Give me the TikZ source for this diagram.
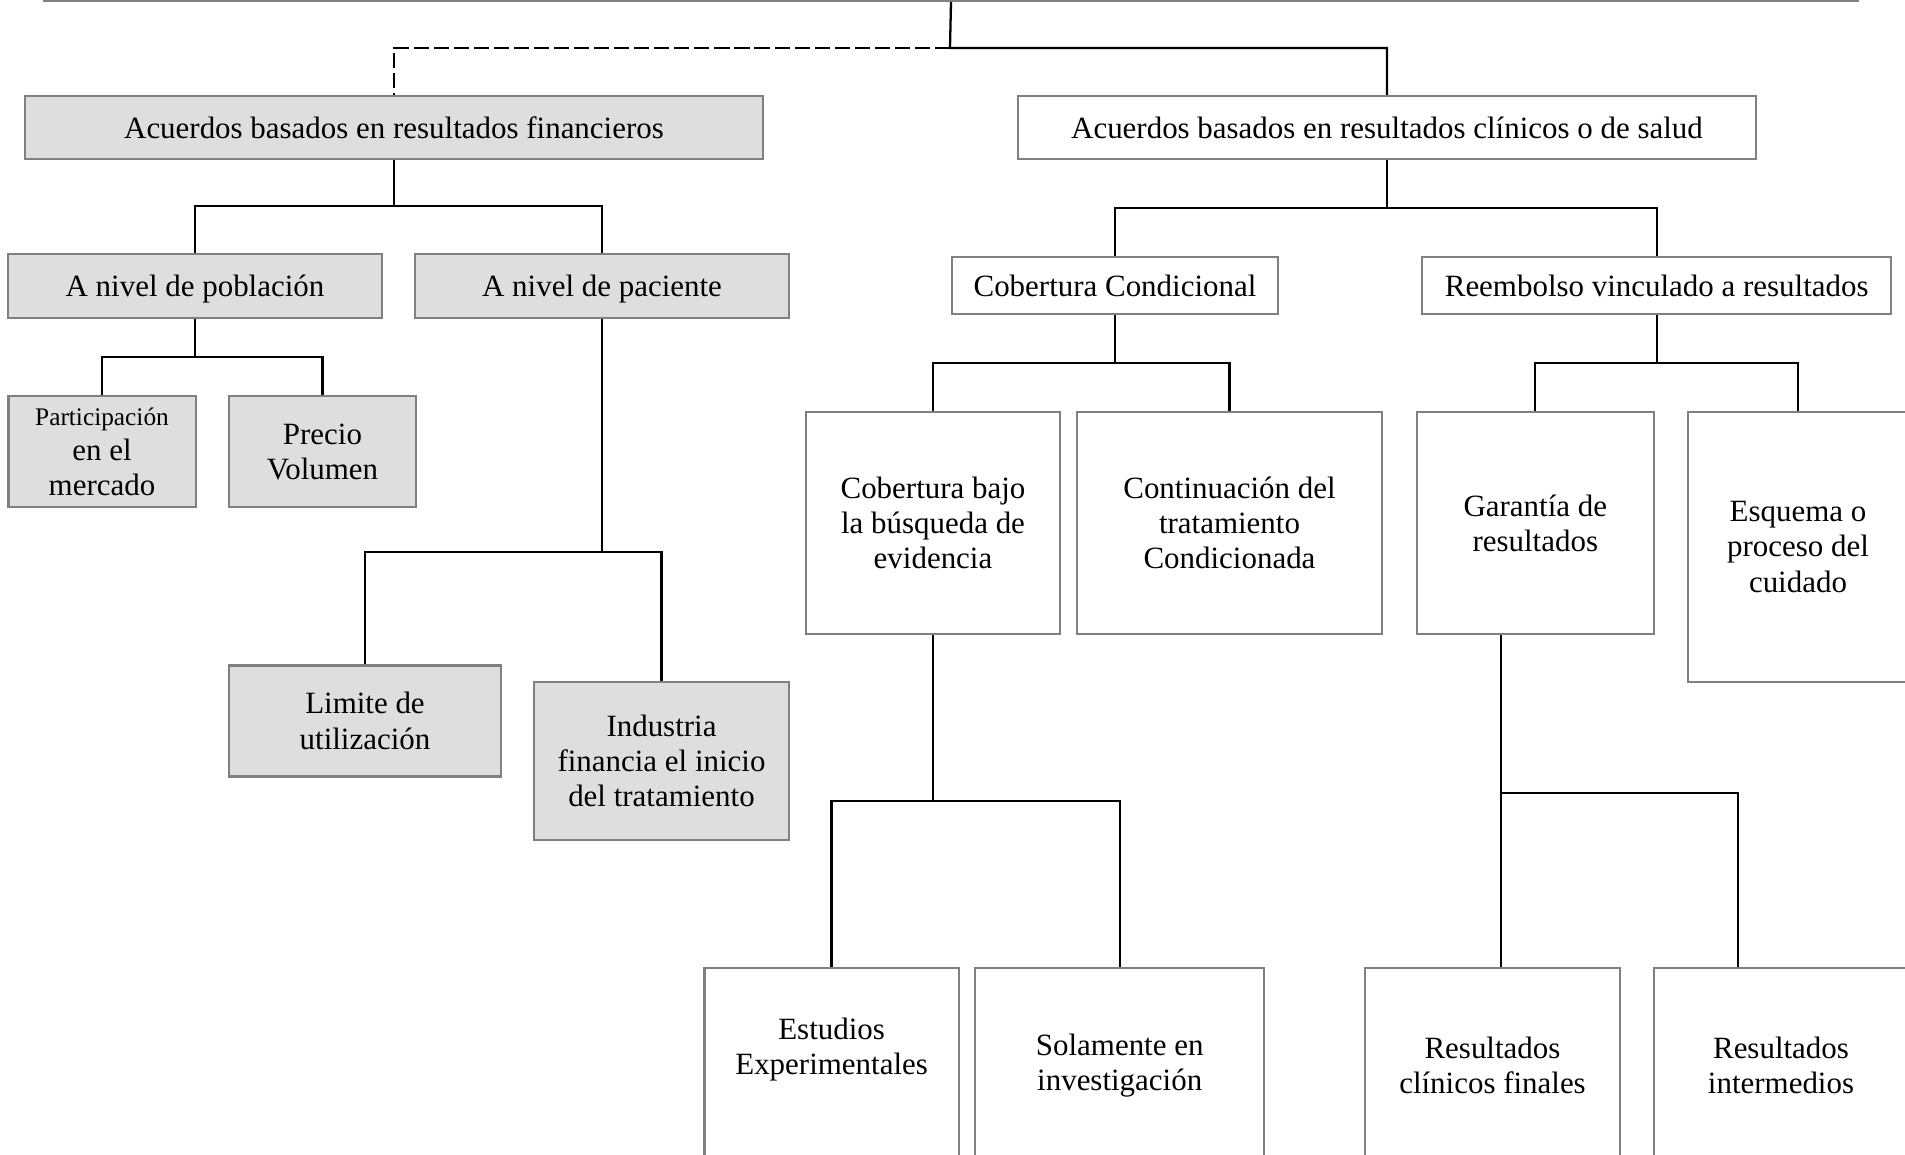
\documentclass[tikz,border=0pt]{standalone}
\usepackage{fontspec}
\setmainfont{Liberation Serif}
\newcommand{\orgfork}[4]{%
  \draw[conn] (#1.south) -- (#1.south |- 0,#2);
  \draw[conn] (#3.north) |- (#1.south |- 0,#2) -| (#4.north);}
\begin{document}
\begin{tikzpicture}[x=0.01cm,y=-0.01cm,font=\fontsize{8.8}{10}\selectfont]
  \tikzstyle{box}=[draw=black!50,line width=0.6pt,inner sep=0pt,align=center]
  \tikzstyle{grey box}=[box,fill=black!13]
  \tikzstyle{one line}=[text depth=0pt]
  \tikzstyle{txt}=[inner sep=0pt,align=center]
  \tikzstyle{conn}=[line width=0.65pt]
  \useasboundingbox (0,0) rectangle (1905,1155);
  \clip (0,0) rectangle (1905,1155);
  \node[box,minimum width=18.12cm,minimum height=0.6cm] (root) at (951,-29) {};
  \node[grey box,one line,minimum width=7.38cm,minimum height=0.63cm] (fin) at (394,127.5) {Acuerdos basados en resultados financieros};
  \node[box,one line,minimum width=7.38cm,minimum height=0.63cm] (clin) at (1387,127.5) {Acuerdos basados en resultados clínicos o de salud};
  \node[grey box,one line,minimum width=3.74cm,minimum height=0.635cm] (pob) at (195,286) {A nivel de población};
  \node[grey box,one line,minimum width=3.735cm,minimum height=0.635cm] (pac) at (602,286) {A nivel de paciente};
  \node[grey box,minimum width=1.87cm,minimum height=1.11cm] (part) at (102,451.6) {{\fontsize{7.2}{8.6}\selectfont Participación}\\en el\\mercado};
  \node[grey box,minimum width=1.87cm,minimum height=1.11cm] (prec) at (322.5,451.6) {Precio\\Volumen};
  \node[grey box,minimum width=2.72cm,minimum height=1.11cm] (lim) at (365,721) {Limite de\\utilización};
  \node[grey box,minimum width=2.55cm,minimum height=1.58cm] (ind) at (661.5,761) {Industria\\financia el inicio\\del tratamiento};
  \node[box,one line,minimum width=3.26cm,minimum height=0.57cm] (cobcond) at (1115,285.5) {Cobertura Condicional};
  \node[box,one line,minimum width=4.69cm,minimum height=0.57cm] (reem) at (1656.7,285.5) {Reembolso vinculado a resultados};
  \node[box,minimum width=2.54cm,minimum height=2.22cm] (cobbajo) at (933,523) {Cobertura bajo\\la búsqueda de\\evidencia};
  \node[box,minimum width=3.05cm,minimum height=2.22cm] (cont) at (1229.5,523) {Continuación del\\tratamiento\\Condicionada};
  \node[box,minimum width=2.37cm,minimum height=2.22cm] (gar) at (1535.3,523) {Garantía de\\resultados};
  \node[box,minimum width=2.2cm,minimum height=2.7cm] (esq) at (1798,547) {Esquema o\\proceso del\\cuidado};
  \node[box,minimum width=2.54cm,minimum height=2.5cm] (est) at (831.6,1093) {};
  \node[box,minimum width=2.89cm,minimum height=2.5cm] (sol) at (1119.7,1093) {};
  \node[box,minimum width=2.55cm,minimum height=2.5cm] (resfin) at (1492.5,1093) {};
  \node[box,minimum width=2.54cm,minimum height=2.5cm] (resint) at (1781,1093) {};
  \node[txt] (est-t) at (831.6,1049.5) {Estudios\\Experimentales};
  \node[txt] (sol-t) at (1119.7,1066) {Solamente en\\investigación};
  \node[txt] (resfin-t) at (1492.5,1065) {Resultados\\clínicos finales};
  \node[txt] (resint-t) at (1781,1065) {Resultados\\intermedios};
  \coordinate (top-j) at (950,48);
  \draw[conn] (root.south) -- (top-j) -| (clin.north);
  \draw[conn,line width=0.8pt,dash pattern=on 4.3pt off 1.4pt] (top-j) -| (fin.north);
  \orgfork{fin}{206}{pob}{pac}
  \orgfork{pob}{356.7}{part}{prec}
  \orgfork{pac}{552.3}{lim}{ind}
  \orgfork{clin}{208}{cobcond}{reem}
  \orgfork{cobcond}{362.7}{cobbajo}{cont}
  \orgfork{reem}{362.7}{gar}{esq}
  \orgfork{cobbajo}{800.7}{est}{sol}
  \coordinate (gar-a) at (1501,792.7);
  \coordinate (gar-b) at (1738,792.7);
  \draw[conn] (gar.south -| gar-a) -- (resfin.north -| gar-a);
  \draw[conn] (gar-a) -- (gar-b) -- (resint.north -| gar-b);
\end{tikzpicture}
\end{document}
